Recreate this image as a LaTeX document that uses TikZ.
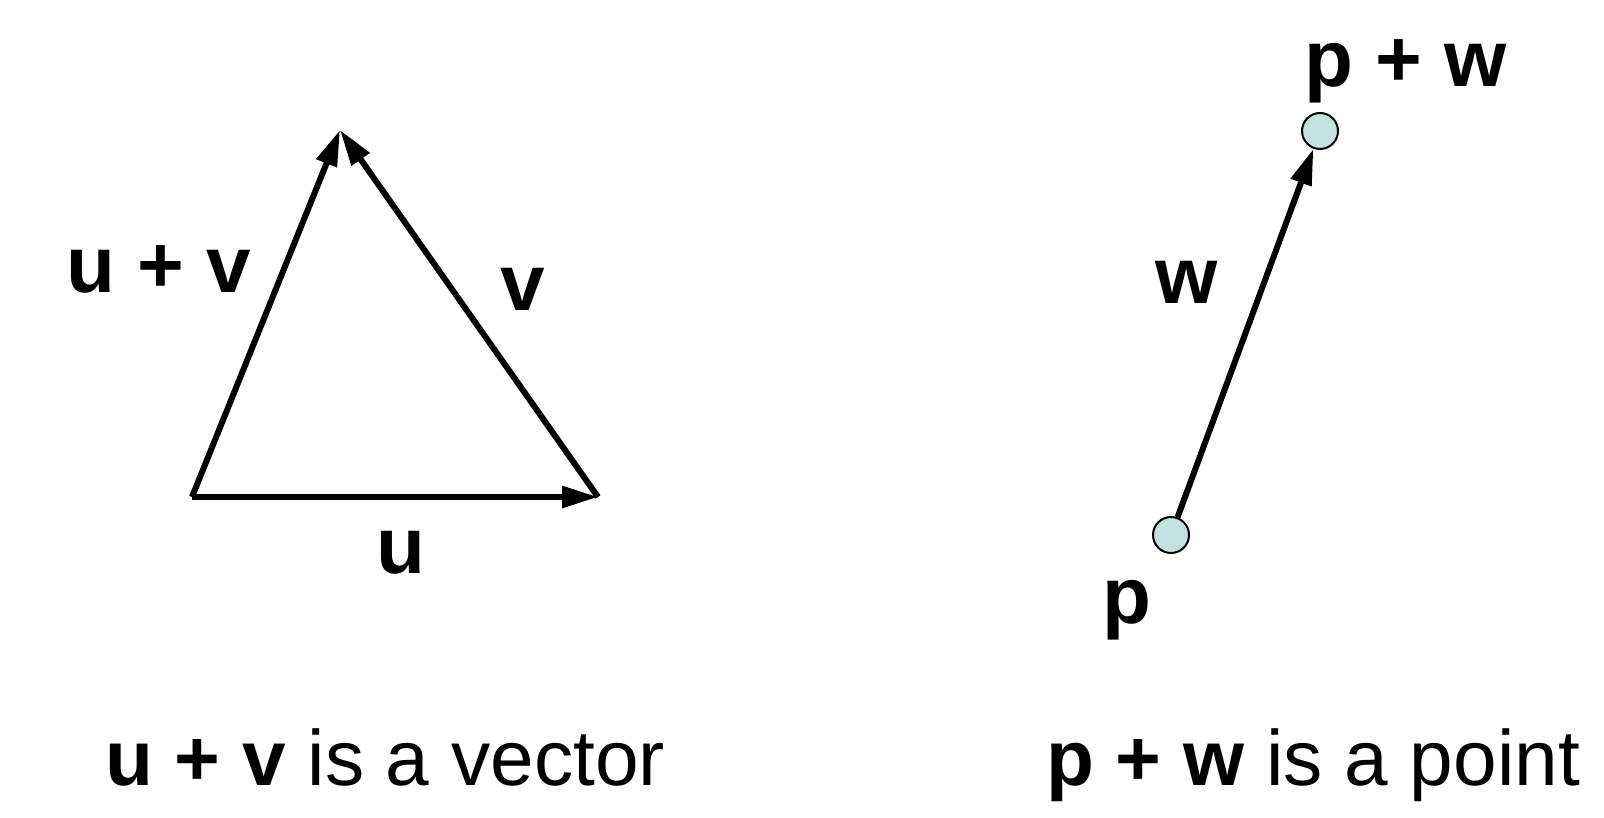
\documentclass[tikz,border=0pt]{standalone}
\usepackage{fontspec}
\setmainfont{Liberation Sans}
\usetikzlibrary{arrows.meta}
\definecolor{ptfill}{RGB}{196,224,225}
\tikzset{
  vecarrow/.style={line width=3pt, -{Triangle[length=18pt,width=10.5pt]}},
  lbltext/.style={anchor=base, inner sep=0pt, font=\fontsize{40pt}{48pt}\selectfont\bfseries},
  captext/.style={anchor=base, inner sep=0pt, font=\fontsize{39.2pt}{46pt}\selectfont},
  ptdot/.style={circle, draw=black, line width=1pt, fill=ptfill, minimum size=18pt, inner sep=0pt}
}
\begin{document}
\begin{tikzpicture}[x=0.5pt, y=-0.5pt]
\useasboundingbox (0,0) rectangle (1604,818);
% triangle
\coordinate (A) at (192,497);
\coordinate (B) at (340,130);
\coordinate (C) at (598,497);
\draw[vecarrow] (A) -- (C);
\draw[vecarrow] (C) -- (B);
\draw[vecarrow] (A) -- (B);
\node[lbltext] (luv) at (159,292) {u + v};
\node[lbltext] (lv) at (523,310) {v};
\node[lbltext] (lu) at (401,573) {u};
% points
\node[ptdot] (p) at (1171,535) {};
\node[ptdot] (pw) at (1320,131) {};
\draw[vecarrow] (p) -- (pw);
\node[lbltext] (lw) at (1187,303) {w};
\node[lbltext] (lp) at (1127,623) {p};
\node[lbltext] (lpw) at (1406,87) {p + w};
% captions
\node[captext] (c1) at (385,785) {{\bfseries u + v} is a vector};
\node[captext] (c2) at (1313,785) {{\bfseries p + w} is a point};
\end{tikzpicture}
\end{document}
